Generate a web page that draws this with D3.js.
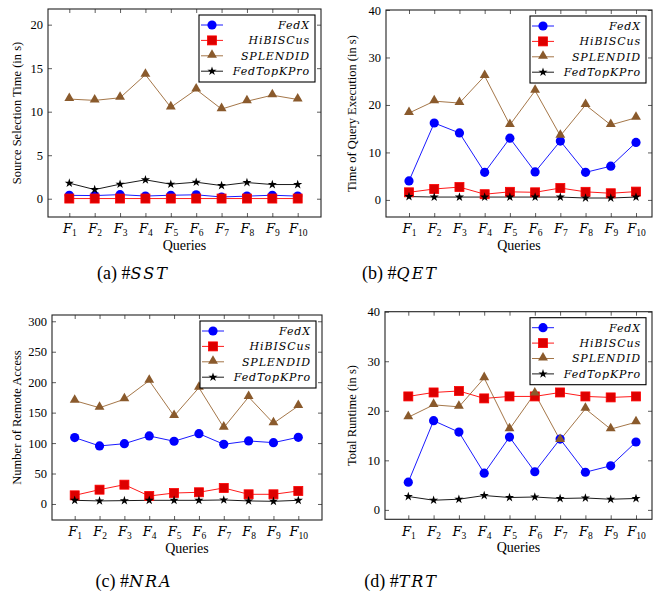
<!DOCTYPE html>
<html>
<head>
<meta charset="utf-8">
<script src="https://cdn.jsdelivr.net/npm/d3@7"></script>
<style>
body{margin:0;background:#fff;}
text{font-family:"Liberation Serif","DejaVu Serif",serif;fill:#000;}
.it{font-family:"DejaVu Serif",serif;font-style:italic;}
</style>
</head>
<body>
<svg id="fig" width="659" height="592"></svg>
<script>
const queries = [1,2,3,4,5,6,7,8,9,10];
const systems = ["FedX","HiBISCus","SPLENDID","FedTopKPro"];
const colors = ["#0000ff","#ff0000","#9a6633","#000000"];

// (a) source selection time
const sstFedX = [0.39,0.36,0.47,0.31,0.4,0.45,0.2,0.3,0.4,0.3];
const sstHibiscus = [0.02,0.02,0.02,0.02,0.02,0.02,0.02,0.02,0.02,0.02];
const sstSplendid = [11.45,11.3,11.6,14.25,10.5,12.55,10.3,11.2,11.9,11.4];
const sstTopK = [1.79,1.05,1.67,2.17,1.67,1.9,1.51,1.86,1.63,1.63];

// (b) query execution time
const qetFedX = [4.0,16.2,14.1,5.8,13.0,5.9,12.4,5.8,7.1,12.1];
const qetHibiscus = [1.6,2.3,2.7,1.2,1.7,1.6,2.5,1.7,1.4,1.75];
const qetSplendid = [18.3,20.8,20.4,26.1,15.8,23.0,13.5,20.0,15.8,17.3];
const qetTopK = [0.7,0.6,0.6,0.6,0.6,0.6,0.6,0.4,0.4,0.6];

// (c) number of remote access
const nraFedX = [109,95.3,99,111.7,103,115.5,98,103.5,100.7,109.5];
const nraHibiscus = [14.2,23.5,31.7,13.1,18,19.2,26.3,15.9,15.9,21.4];
const nraSplendid = [169.7,158,172,202.5,144.5,191,125.4,175.7,132.5,161];
const nraTopK = [6,5,5.5,6,6,6,6.6,5,4.4,6];

// (d) total runtime
const trtFedX = [5.6,18.0,15.7,7.4,14.7,7.7,14.3,7.6,8.9,13.7];
const trtHibiscus = [22.9,23.7,24.0,22.5,22.9,22.9,23.7,22.9,22.7,22.9];
const trtSplendid = [18.7,21.2,20.8,26.6,16.3,23.5,14.1,20.4,16.3,17.7];
const trtTopK = [2.7,1.95,2.15,2.9,2.5,2.6,2.3,2.4,2.15,2.3];

const panels = [
	{tag:"(a) ", name:"SST", ylabel:"Source Selection Time (in s)",
	 series:[sstFedX,sstHibiscus,sstSplendid,sstTopK], yticks:[0,5,10,15,20],
	 left:48, right:321, top:9, bottom:217, x1:69.3, x10:297.7, ydom:[-2.1,21.8],
	 labX:17, capX:133, capY:279},
	{tag:"(b) ", name:"QET", ylabel:"Time of Query Execution (in s)",
	 series:[qetFedX,qetHibiscus,qetSplendid,qetTopK], yticks:[0,10,20,30,40],
	 left:386, right:652, top:10, bottom:217, x1:409, x10:636, ydom:[-3.6,40],
	 labX:352, capX:400, capY:279},
	{tag:"(c) ", name:"NRA", ylabel:"Number of Remote Access",
	 series:[nraFedX,nraHibiscus,nraSplendid,nraTopK], yticks:[0,50,100,150,200,250,300],
	 left:52, right:322, top:315, bottom:520, x1:74.7, x10:298.3, ydom:[-26.3,310.3],
	 labX:17, capX:134, capY:587},
	{tag:"(d) ", name:"TRT", ylabel:"Total Runtime (in s)",
	 series:[trtFedX,trtHibiscus,trtSplendid,trtTopK], yticks:[0,10,20,30,40],
	 left:385, right:652, top:311.7, bottom:519.3, x1:408.3, x10:636, ydom:[-1.9,40],
	 labX:352, capX:401, capY:587}
];

const svg = d3.select("#fig");
svg.append("rect").attr("width",659).attr("height",592).attr("fill","#fff");

function drawMarker(g, k, cx, cy){
	let c = colors[k];
	if(k == 0){
		g.append("circle").attr("cx",cx).attr("cy",cy).attr("r",4.6).attr("fill",c);
	}else if(k == 1){
		g.append("rect").attr("x",cx-4.5).attr("y",cy-4.5).attr("width",9).attr("height",9)
			.attr("fill","#dd0000").attr("stroke",c).attr("stroke-width",0.8);
	}else if(k == 2){
		g.append("path").attr("d",d3.symbol(d3.symbolTriangle,42)())
			.attr("transform","translate("+cx+","+(cy-0.8)+")").attr("fill","#8a5a2c");
	}else{
		g.append("path").attr("d",d3.symbol(d3.symbolStar,26)())
			.attr("transform","translate("+cx+","+cy+")").attr("fill","#000");
	}
}

function fixTicks(g){
	g.select(".domain").remove();
	g.selectAll(".tick line").attr("stroke","#333").attr("stroke-width",0.8);
}

panels.forEach(function(p){
	let x = d3.scaleLinear().domain([1,10]).range([p.x1,p.x10]);
	let y = d3.scaleLinear().domain(p.ydom).range([p.bottom,p.top]);
	let g = svg.append("g");

	// axes, inward ticks on all sides
	let ax = g.append("g").attr("transform","translate("+p.left+",0)")
		.call(d3.axisLeft(y).tickValues(p.yticks).tickSize(-4).tickPadding(5));
	fixTicks(ax);
	ax.selectAll("text").style("font-size","12.5px");
	fixTicks(g.append("g").attr("transform","translate("+p.right+",0)")
		.call(d3.axisRight(y).tickValues(p.yticks).tickSize(-4).tickFormat("")));
	fixTicks(g.append("g").attr("transform","translate(0,"+p.top+")")
		.call(d3.axisTop(x).tickValues(queries).tickSize(-4).tickFormat("")));
	let bx = g.append("g").attr("transform","translate(0,"+p.bottom+")")
		.call(d3.axisBottom(x).tickValues(queries).tickSize(-4).tickPadding(7));
	fixTicks(bx);
	bx.selectAll("text").each(function(d){
		let t = d3.select(this).text(null).style("font-size","13px");
		t.append("tspan").attr("class","it").text("F");
		t.append("tspan").attr("dy",3).style("font-size","9.5px").text(d);
	});

	g.append("rect").attr("x",p.left).attr("y",p.top)
		.attr("width",p.right-p.left).attr("height",p.bottom-p.top)
		.attr("fill","none").attr("stroke","#222").attr("stroke-width",1.1);

	// series
	let line = d3.line().x(function(d,i){return x(queries[i])}).y(function(d){return y(d)});
	p.series.forEach(function(vals,k){
		g.append("path").datum(vals).attr("d",line).attr("fill","none")
			.attr("stroke",colors[k]).attr("stroke-width",0.9);
	});
	p.series.forEach(function(vals,k){
		vals.forEach(function(v,i){ drawMarker(g,k,x(queries[i]),y(v)); });
	});

	// labels
	g.append("text").attr("x",(p.left+p.right)/2).attr("y",p.bottom+33)
		.attr("text-anchor","middle").style("font-size","14px").text("Queries");
	g.append("text").attr("transform","translate("+p.labX+","+(p.top+p.bottom)/2+") rotate(-90)")
		.attr("text-anchor","middle").attr("dy","0.35em").style("font-size","12.5px").text(p.ylabel);

	// legend
	let lw = 116, lh = 67, lx = p.right-6-lw, ly = p.top+6;
	let lg = g.append("g");
	lg.append("rect").attr("x",lx).attr("y",ly).attr("width",lw).attr("height",lh)
		.attr("fill","#fff").attr("stroke","#000").attr("stroke-width",1.1);
	systems.forEach(function(s,k){
		let cy = ly+10+k*15.4;
		lg.append("line").attr("x1",lx+2).attr("x2",lx+24).attr("y1",cy).attr("y2",cy)
			.attr("stroke",colors[k]).attr("stroke-width",0.9);
		drawMarker(lg,k,lx+13,cy);
		lg.append("text").attr("class","it").attr("x",lx+lw-5).attr("y",cy).attr("dy","0.35em")
			.attr("text-anchor","end").style("font-size","11px")
			.style("letter-spacing","0.9px").text(s);
	});

	// caption
	let cap = svg.append("text").attr("x",p.capX).attr("y",p.capY).attr("text-anchor","middle")
		.style("font-size","18px");
	cap.append("tspan").text(p.tag+"#");
	cap.append("tspan").attr("class","it").style("font-size","16px").style("letter-spacing","2px").text(p.name);
});
</script>
</body>
</html>
